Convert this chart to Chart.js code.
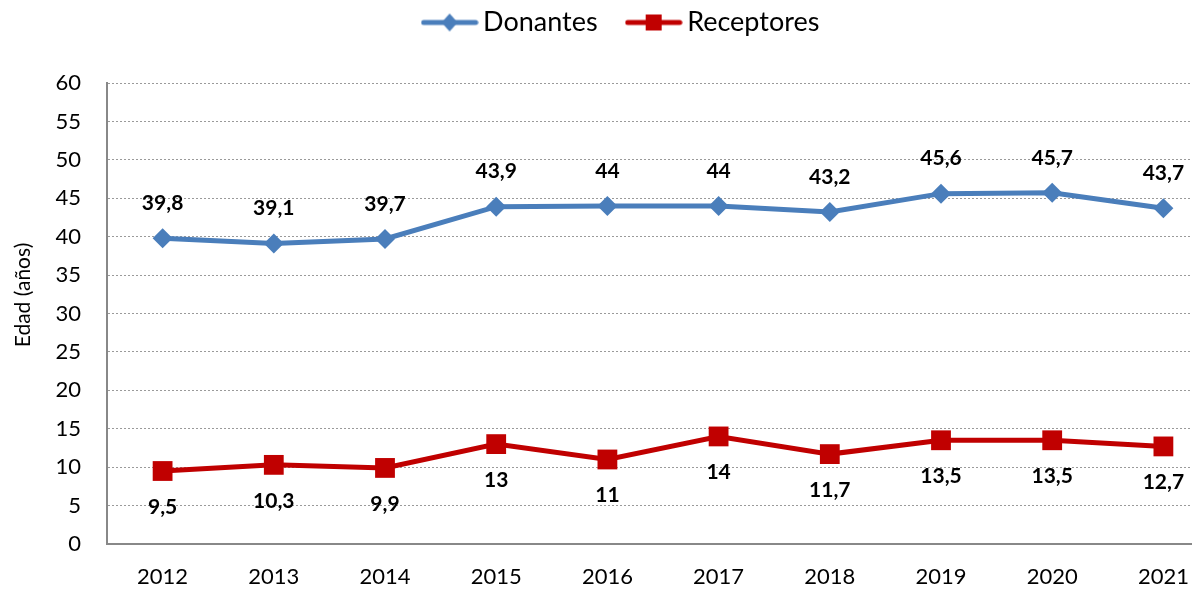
<!DOCTYPE html>
<html lang="es">
<head>
  <meta charset="UTF-8" />
  <title>Edad media de donantes y receptores</title>
  <script src="https://cdn.jsdelivr.net/npm/chart.js"></script>
  <style>
    html, body { margin: 0; padding: 0; background: #fff; overflow: hidden; }
    #wrap { width: 1240px; height: 589px; position: relative; }
  </style>
</head>
<body>
  <div id="wrap">
    <canvas id="edadChart"></canvas>
  </div>

  <script>
    const years = ['2012', '2013', '2014', '2015', '2016', '2017', '2018', '2019', '2020', '2021'];
    const donantes = [39.8, 39.1, 39.7, 43.9, 44, 44, 43.2, 45.6, 45.7, 43.7];
    const receptores = [9.5, 10.3, 9.9, 13, 11, 14, 11.7, 13.5, 13.5, 12.7];
    const yMin = 0, yMax = 60, yStep = 5;

    const BLUE = '#4A7EBB';
    const RED = '#C00000';
    const FONT = 'Lato, "Open Sans", sans-serif';

    // small line + marker icons for the legend
    function legendIcon(color, shape) {
      const c = document.createElement('canvas');
      c.width = 58; c.height = 24;
      const g = c.getContext('2d');
      g.strokeStyle = color;
      g.lineWidth = 5;
      g.lineCap = 'round';
      g.beginPath(); g.moveTo(3, 12); g.lineTo(55, 12); g.stroke();
      g.fillStyle = color;
      g.beginPath();
      if (shape === 'diamond') {
        g.moveTo(29, 3); g.lineTo(37, 12); g.lineTo(29, 21); g.lineTo(21, 12);
      } else {
        g.rect(21, 4, 16, 16);
      }
      g.closePath(); g.fill();
      return c;
    }
    const icons = [legendIcon(BLUE, 'diamond'), legendIcon(RED, 'square')];

    // value labels: above the blue series, below the red one
    const valueLabels = {
      id: 'valueLabels',
      afterDatasetsDraw(chart) {
        const ctx = chart.ctx;
        ctx.save();
        ctx.font = 'bold 21px ' + FONT;
        ctx.fillStyle = '#000';
        ctx.textAlign = 'center';
        ctx.textBaseline = 'middle';
        chart.data.datasets.forEach((ds, i) => {
          const meta = chart.getDatasetMeta(i);
          const dy = i === 0 ? -35 : 36;
          meta.data.forEach((pt, j) => {
            const txt = String(ds.data[j]).replace('.', ',');
            ctx.fillText(txt, pt.x, pt.y + dy);
          });
        });
        ctx.restore();
      }
    };

    // rotated y axis title, a bit above the middle of the axis
    const yTitle = {
      id: 'yTitle',
      afterDraw(chart) {
        const ctx = chart.ctx;
        ctx.save();
        ctx.translate(23, 295);
        ctx.rotate(-Math.PI / 2);
        ctx.font = '21px ' + FONT;
        ctx.fillStyle = '#000';
        ctx.textAlign = 'center';
        ctx.textBaseline = 'middle';
        ctx.fillText('Edad (años)', 0, 0);
        ctx.restore();
      }
    };

    // fixed legend block height so the plot starts at the right place,
    // and the legend nudged right to sit over the visible area
    const legendBox = {
      id: 'legendBox',
      beforeInit(chart) {
        const fit = chart.legend.fit;
        chart.legend.fit = function () {
          fit.bind(chart.legend)();
          this.height = 110;
        };
      },
      afterLayout(chart) {
        chart.legend.left += 15;
        chart.legend.right += 15;
      }
    };

    const ctx = document.getElementById('edadChart').getContext('2d');
    new Chart(ctx, {
      type: 'line',
      data: {
        labels: years,
        datasets: [{
          label: 'Donantes',
          data: donantes,
          borderColor: BLUE,
          backgroundColor: BLUE,
          borderWidth: 5,
          pointStyle: 'rectRot',
          pointRadius: 10,
          pointBorderWidth: 0,
          pointBackgroundColor: BLUE,
          tension: 0
        }, {
          label: 'Receptores',
          data: receptores,
          borderColor: RED,
          backgroundColor: RED,
          borderWidth: 5,
          pointStyle: 'rect',
          pointRadius: 14,
          pointBorderWidth: 0,
          pointBackgroundColor: RED,
          tension: 0
        }]
      },
      options: {
        responsive: true,
        maintainAspectRatio: false,
        animation: false,
        layout: { padding: { left: 0, right: 21, top: -27, bottom: 0 } },
        plugins: {
          tooltip: { enabled: false },
          legend: {
            position: 'top',
            labels: {
              usePointStyle: true,
              pointStyleWidth: 40,
              padding: 36,
              color: '#000',
              font: { family: FONT, size: 27 },
              generateLabels(chart) {
                const items = Chart.defaults.plugins.legend.labels.generateLabels(chart);
                items.forEach((it, i) => { it.pointStyle = icons[i]; });
                return items;
              }
            }
          }
        },
        scales: {
          x: {
            offset: true,
            grid: { display: false, drawTicks: false },
            border: { display: true, color: '#888', width: 2 },
            ticks: { color: '#000', padding: 20, font: { family: FONT, size: 22 } },
            afterFit(s) { s.height = 45; }
          },
          y: {
            min: yMin,
            max: yMax,
            grid: { color: '#9a9a9a', lineWidth: 1, drawTicks: false },
            border: { display: true, color: '#888', width: 2, dash: [2, 2] },
            ticks: { stepSize: yStep, color: '#000', padding: 26, font: { family: FONT, size: 22 } },
            afterFit(s) { s.width = 107; }
          }
        }
      },
      plugins: [valueLabels, yTitle, legendBox]
    });
  </script>
</body>
</html>
